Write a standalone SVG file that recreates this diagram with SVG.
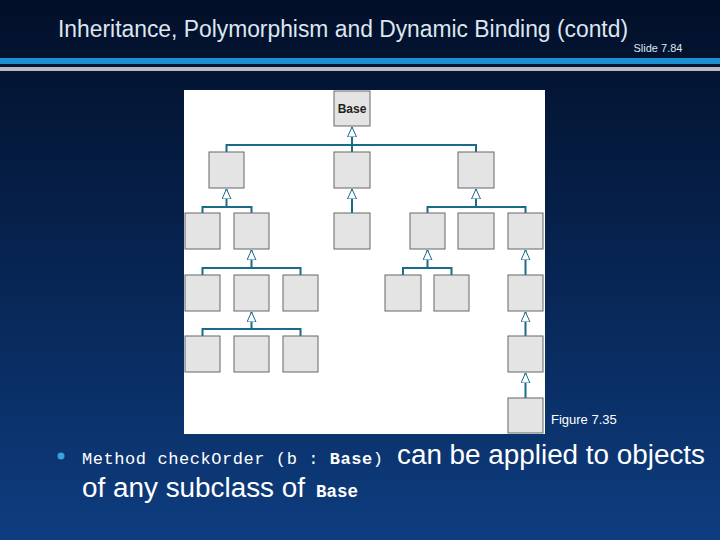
<svg xmlns="http://www.w3.org/2000/svg" width="720" height="540" viewBox="0 0 720 540">
<defs>
<linearGradient id="bg" x1="0" y1="0" x2="0" y2="1"><stop offset="0" stop-color="#020f28"/><stop offset="0.4" stop-color="#06204a"/><stop offset="1" stop-color="#0e3d80"/></linearGradient>
<marker id="tri" viewBox="0 0 10 10" refX="0" refY="5" markerWidth="10" markerHeight="10" markerUnits="userSpaceOnUse" orient="auto"><path d="M0,5 L10,0.5 L10,9.5 Z" fill="#fff" stroke="#1a6a8a" stroke-width="1"/></marker>
<style>
.b{fill:#e4e4e4;stroke:#666;stroke-width:1}
.c{fill:none;stroke:#1a6a8a;stroke-width:2}
.a{stroke:#1a6a8a;stroke-width:2;marker-start:url(#tri)}
.s{font-family:"Liberation Sans",Arial,sans-serif}
.m{font-family:"Liberation Mono","Courier New",monospace}
</style>
</defs>
<rect width="720" height="540" fill="url(#bg)"/>
<text x="58" y="37" class="s" font-size="23" fill="#dde6f0" textLength="570" lengthAdjust="spacingAndGlyphs">Inheritance, Polymorphism and Dynamic Binding (contd)</text>
<text x="658" y="52" class="s" font-size="11" fill="#dde6f0" text-anchor="middle">Slide 7.84</text>
<rect x="0" y="58" width="720" height="6" fill="#1b8fd0"/>
<rect x="0" y="67" width="720" height="4" fill="#b8bcc0"/>
<rect x="184" y="90" width="361" height="344" fill="#fff"/>
<g id="connectors">
<path class="a" d="M352,127 V145"/><path class="c" d="M226.5,152 V145 H476 V152 M352,145 V152"/>
<path class="a" d="M226.5,189 V207"/><path class="c" d="M202.5,213 V207 H251.5 V213"/>
<path class="a" d="M352,189 V213"/>
<path class="a" d="M476,189 V207"/><path class="c" d="M427.5,213 V207 H525.5 V213"/>
<path class="a" d="M251.5,250 V268"/><path class="c" d="M202.5,275 V268 H300.5 V275"/>
<path class="a" d="M427.5,250 V268"/><path class="c" d="M403,275 V268 H451.5 V275"/>
<path class="a" d="M525.5,250 V275"/>
<path class="a" d="M251.5,312 V329"/><path class="c" d="M202.5,336 V329 H300.5 V336"/>
<path class="a" d="M525.5,312 V336"/>
<path class="a" d="M525.5,373 V398"/>
</g>
<g id="base"><rect class="b" x="334" y="91" width="36" height="35"/><text x="352" y="113" class="s" font-size="12" font-weight="bold" text-anchor="middle" fill="#222">Base</text></g>
<g id="r1"><rect class="b" x="209" y="152" width="35" height="36"/><rect class="b" x="334" y="152" width="36" height="36"/><rect class="b" x="458" y="152" width="36" height="36"/></g>
<g id="r2"><rect class="b" x="185" y="213" width="35" height="36"/><rect class="b" x="234" y="213" width="35" height="36"/><rect class="b" x="334" y="213" width="36" height="36"/><rect class="b" x="410" y="213" width="35" height="36"/><rect class="b" x="458" y="213" width="36" height="36"/><rect class="b" x="508" y="213" width="35" height="36"/></g>
<g id="r3"><rect class="b" x="185" y="275" width="35" height="36"/><rect class="b" x="234" y="275" width="35" height="36"/><rect class="b" x="283" y="275" width="35" height="36"/><rect class="b" x="385" y="275" width="36" height="36"/><rect class="b" x="434" y="275" width="35" height="36"/><rect class="b" x="508" y="275" width="35" height="36"/></g>
<g id="r4"><rect class="b" x="185" y="336" width="35" height="36"/><rect class="b" x="234" y="336" width="35" height="36"/><rect class="b" x="283" y="336" width="35" height="36"/><rect class="b" x="508" y="336" width="35" height="36"/></g>
<g id="r5"><rect class="b" x="508" y="398" width="35" height="35"/></g>
<text x="551" y="424" class="s" font-size="13" fill="#fff">Figure 7.35</text>
<circle cx="61" cy="456" r="3.5" fill="#3aa0e0"/>
<text x="82" y="464" fill="#fff" class="m" font-size="17" textLength="301" lengthAdjust="spacing">Method checkOrder (b : <tspan font-weight="bold">Base</tspan>)</text>
<text x="397" y="464" fill="#fff" class="s" font-size="27" textLength="308" lengthAdjust="spacingAndGlyphs">can be applied to objects</text>
<text x="82" y="497" fill="#fff" class="s" font-size="27" textLength="223" lengthAdjust="spacingAndGlyphs">of any subclass of</text>
<text x="316" y="497" fill="#fff" class="m" font-size="17.5" font-weight="bold">Base</text>
</svg>
